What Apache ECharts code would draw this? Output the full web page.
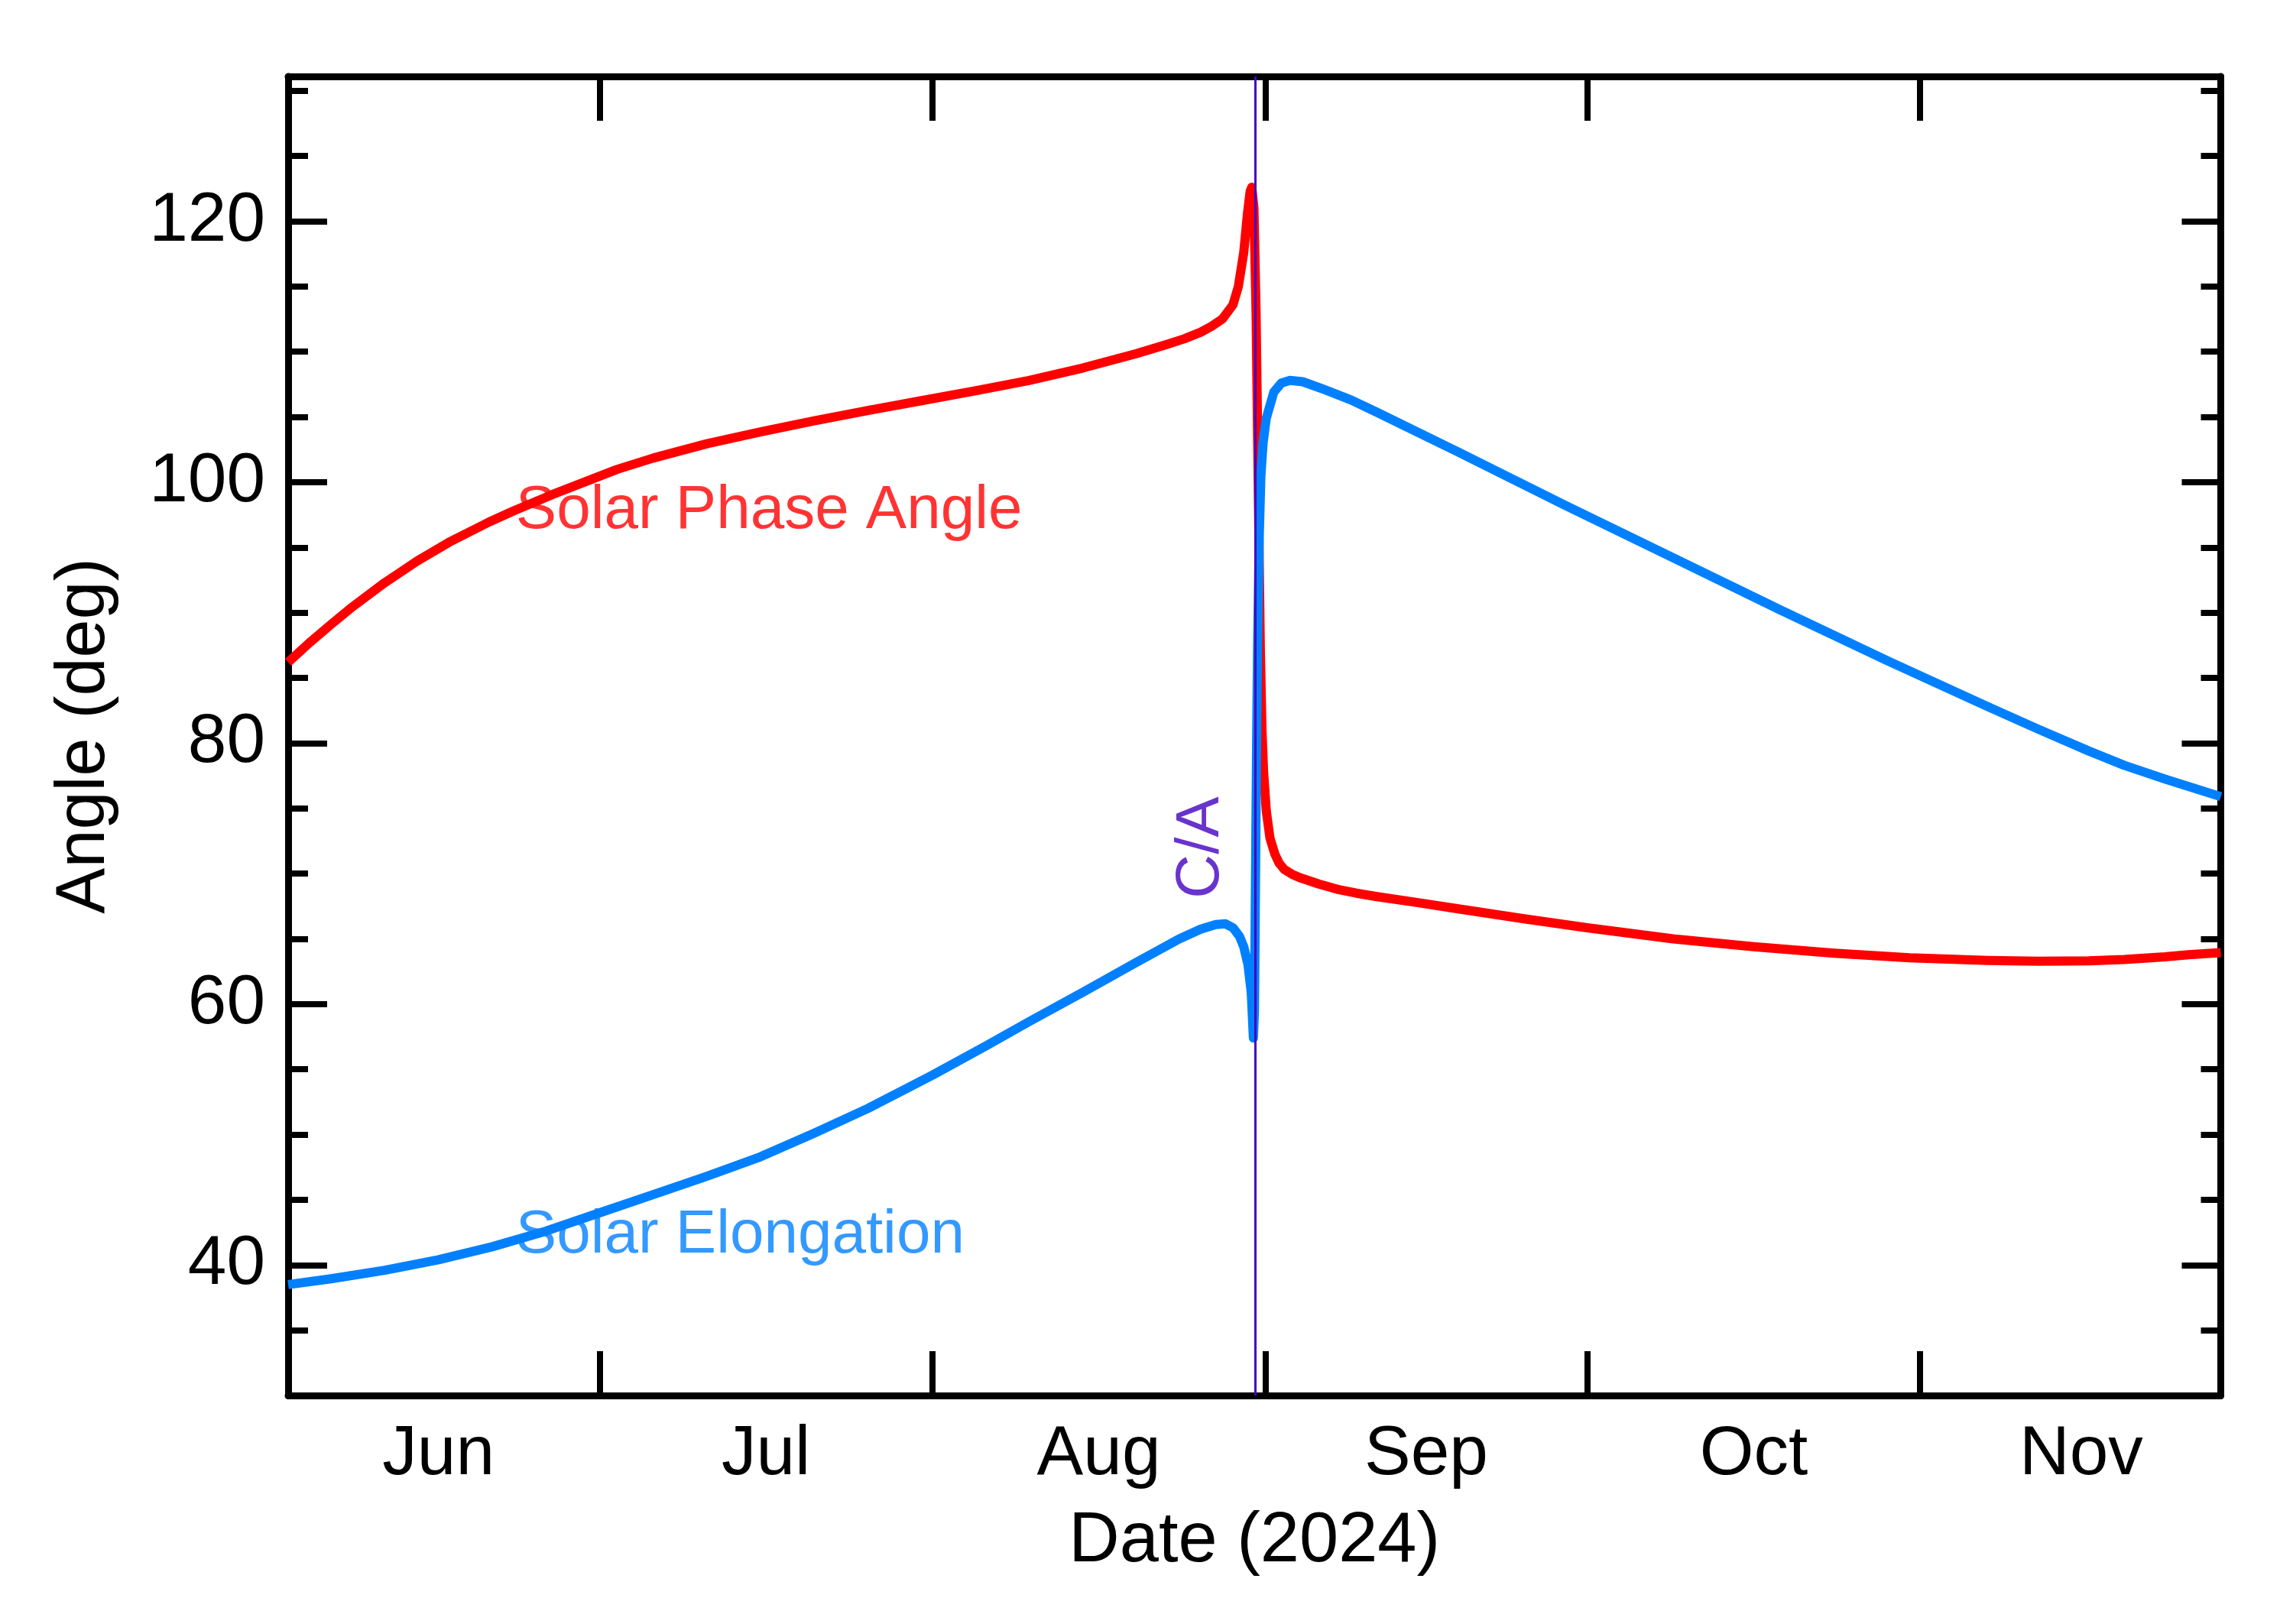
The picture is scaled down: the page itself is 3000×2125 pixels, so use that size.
<!DOCTYPE html>
<html><head><meta charset="utf-8">
<script src="https://cdn.jsdelivr.net/npm/echarts@6/dist/echarts.min.js"></script>
<style>html,body{margin:0;padding:0;background:#fff}#c{width:3000px;height:2125px}</style>
</head><body><div id="c"></div>
<script>
// x values: days since 2024-06-01 00:00 (Jun 1 = 0)
const phaseDays = [1, 3, 5, 7, 10, 13, 16, 19.72, 22, 25.6, 31.6, 35, 40, 45, 50, 55, 60, 65, 70, 75, 80, 83, 84.5, 86, 87, 88, 89, 89.5, 90, 90.35, 90.6, 90.75, 90.95, 91.15, 91.35, 91.55, 91.7, 91.85, 92.1, 92.45, 92.9, 93.3, 93.8, 94.5, 95.2, 97, 98.7, 100.5, 102.3, 106, 110, 116, 122, 130, 137.5, 145, 152, 159.3, 164, 168.7, 172, 175.8, 178, 181];
const phaseVals = [86.2, 87.7, 89.1, 90.45, 92.3, 93.95, 95.4, 96.95, 97.8, 99.05, 100.97, 101.85, 102.95, 103.85, 104.7, 105.5, 106.25, 107.0, 107.8, 108.75, 109.85, 110.6, 111.0, 111.5, 111.95, 112.5, 113.6, 115.0, 117.6, 120.6, 122.3, 122.6, 121.0, 113.0, 100.0, 87.0, 81.0, 77.8, 74.8, 72.7, 71.5, 70.8, 70.3, 69.95, 69.7, 69.2, 68.8, 68.5, 68.25, 67.8, 67.3, 66.55, 65.85, 65.0, 64.4, 63.9, 63.55, 63.34, 63.28, 63.32, 63.42, 63.62, 63.78, 63.95];
const elongDays = [1, 5, 10, 15, 20, 25, 30, 35, 40, 45, 50, 55, 61, 66, 70, 75, 80, 84, 86, 87.4, 88.3, 89, 89.6, 90, 90.4, 90.7, 90.9, 91.0, 91.1, 91.2, 91.3, 91.45, 91.6, 91.8, 92.1, 92.8, 93.5, 94.3, 95.5, 97.5, 100, 102.3, 110, 120, 130, 140, 150, 159.3, 164, 168.7, 172, 175.8, 181];
const elongVals = [38.5, 38.95, 39.6, 40.4, 41.4, 42.6, 44.0, 45.4, 46.8, 48.3, 50.1, 52.0, 54.55, 56.8, 58.65, 60.9, 63.2, 65.0, 65.75, 66.1, 66.15, 65.85, 65.2, 64.4, 63.0, 60.9, 57.4, 59.5, 70.0, 80.0, 88.0, 96.0, 100.5, 103.0, 104.9, 106.9, 107.6, 107.8, 107.7, 107.1, 106.3, 105.4, 102.3, 98.2, 94.2, 90.2, 86.3, 82.8, 81.07, 79.4, 78.3, 77.25, 75.9];
const caDay = 91.05;
const monthTickDays = [30, 61, 92, 122, 153];
const monthLabelDays = [15, 45.5, 76.5, 107, 137.5, 168];
const monthLabels = ['Jun', 'Jul', 'Aug', 'Sep', 'Oct', 'Nov'];
const yMajorTicks = [40, 60, 80, 100, 120];
const yMinorTicks = [35, 45, 50, 55, 65, 70, 75, 85, 90, 95, 105, 110, 115, 125, 130];
const textLabels = [
  { name: 'Solar Phase Angle', day: 22.2, val: 97.8, color: '#ff0000' },
  { name: 'Solar Elongation', day: 22.2, val: 42.25, color: '#0080ff' }
];
const caLabel = { name: 'C/A', day: 86.1, val: 72.0 };

const FONT = '"Liberation Sans", Arial, Helvetica, sans-serif';
const X_MIN = 1, X_MAX = 181, Y_MIN = 30, Y_MAX = 131.1;
const CA_COLOR = '#4400c0';

const chart = echarts.init(document.getElementById('c'), null, { renderer: 'canvas' });

const pair = (xs, ys) => xs.map((x, i) => [x, ys[i]]);
const labelByDay = {};
monthLabelDays.forEach((d, i) => { labelByDay[d] = monthLabels[i]; });

function xAx(pos, showLabel) {
  return {
    type: 'value', position: pos, min: X_MIN, max: X_MAX,
    axisLine: { show: true, onZero: false, lineStyle: { color: '#000', width: 9 } },
    axisTick: { show: true, inside: true, length: 58, customValues: monthTickDays, lineStyle: { color: '#000', width: 8 } },
    axisLabel: showLabel ? {
      show: true, customValues: monthLabelDays, margin: 32,
      formatter: v => labelByDay[v] || '',
      color: '#000', fontSize: 91, fontFamily: FONT
    } : { show: false },
    splitLine: { show: false },
    name: showLabel ? 'Date (2024)' : '',
    nameLocation: 'middle', nameGap: 146,
    nameTextStyle: { color: '#000', fontSize: 92, fontFamily: FONT }
  };
}
function yAx(pos, ticks, len, showLabel, showLine) {
  return {
    type: 'value', position: pos, min: Y_MIN, max: Y_MAX,
    axisLine: { show: showLine, onZero: false, lineStyle: { color: '#000', width: 9 } },
    axisTick: { show: true, inside: true, length: len, customValues: ticks, lineStyle: { color: '#000', width: 8 } },
    axisLabel: showLabel ? {
      show: true, customValues: yMajorTicks, margin: 30,
      color: '#000', fontSize: 91, fontFamily: FONT
    } : { show: false },
    splitLine: { show: false },
    name: showLabel ? 'Angle (deg)' : '',
    nameLocation: 'middle', nameGap: 221, nameRotate: 90,
    nameTextStyle: { color: '#000', fontSize: 90, fontFamily: FONT }
  };
}

const option = {
  backgroundColor: '#ffffff',
  animation: false,
  grid: { left: 377, right: 94.5, top: 100, bottom: 299, containLabel: false },
  xAxis: [xAx('bottom', true), xAx('top', false)],
  yAxis: [
    yAx('left', yMajorTicks, 51, true, true),
    yAx('left', yMinorTicks, 26, false, false),
    yAx('right', yMajorTicks, 51, false, true),
    yAx('right', yMinorTicks, 26, false, false)
  ],
  series: [
    {
      type: 'scatter', xAxisIndex: 0, yAxisIndex: 0, symbolSize: 0, z: 1,
      data: textLabels.map(t => ({
        value: [t.day, t.val], name: t.name,
        label: { show: true, position: 'right', distance: 0, formatter: t.name, color: t.color, fontSize: 80, fontFamily: FONT }
      }))
    },
    {
      type: 'line', name: 'Solar Phase Angle', xAxisIndex: 0, yAxisIndex: 0,
      data: pair(phaseDays, phaseVals), showSymbol: false, smooth: false,
      lineStyle: { color: '#ff0000', width: 12, join: 'round' }, z: 3
    },
    {
      type: 'line', name: 'Solar Elongation', xAxisIndex: 0, yAxisIndex: 0,
      data: pair(elongDays, elongVals), showSymbol: false, smooth: false,
      lineStyle: { color: '#0080ff', width: 12, join: 'round' }, z: 4
    },
    {
      type: 'scatter', xAxisIndex: 0, yAxisIndex: 0, symbolSize: 0, z: 10,
      data: [{
        value: [caLabel.day, caLabel.val], name: caLabel.name,
        label: { show: true, position: 'inside', rotate: 90, formatter: caLabel.name, color: CA_COLOR, fontSize: 80, fontFamily: FONT }
      }],
      markLine: {
        silent: true, symbol: 'none', animation: false, z: 10,
        label: { show: false },
        lineStyle: { color: CA_COLOR, width: 3, type: 'solid' },
        data: [{ xAxis: caDay }]
      }
    }
  ]
};
chart.setOption(option);
</script>
</body></html>
